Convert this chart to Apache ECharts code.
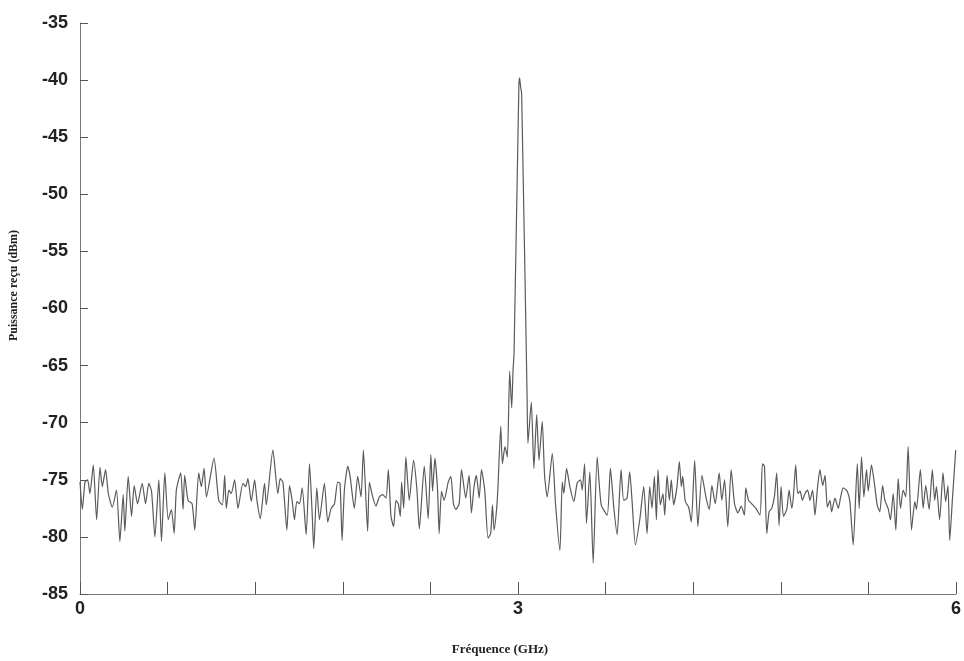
<!DOCTYPE html>
<html><head><meta charset="utf-8">
<script src="https://cdn.jsdelivr.net/npm/echarts@6/dist/echarts.min.js"></script>
<style>html,body{margin:0;padding:0;background:#fff}#c{width:964px;height:661px}</style>
</head><body><div id="c"></div>
<script>
// Frequency (GHz) and received power (dBm)
const freq = [
0.000,0.016,0.034,0.052,0.068,0.091,0.114,0.137,0.153,0.175,0.194,0.221,0.250,0.273,0.296,0.307,0.330,0.353,0.371,0.394,
0.426,0.449,0.471,0.490,0.513,0.540,0.558,0.581,0.604,0.626,0.645,0.660,0.690,0.706,0.717,0.740,0.768,0.786,0.813,0.831,
0.850,0.866,0.918,0.950,0.975,0.991,1.002,1.020,1.036,1.059,1.082,1.116,1.134,1.150,1.173,1.196,1.212,1.235,1.264,1.276,
1.321,1.355,1.371,1.390,1.417,1.435,1.453,1.469,1.485,1.503,1.522,1.549,1.572,1.590,1.601,1.622,1.640,1.674,1.697,1.720,
1.743,1.765,1.781,1.795,1.811,1.834,1.850,1.879,1.902,1.925,1.941,1.970,1.982,2.005,2.027,2.050,2.073,2.096,2.112,2.130,
2.148,2.164,2.180,2.194,2.203,2.217,2.232,2.255,2.285,2.308,2.324,2.358,2.385,2.403,2.415,2.431,2.449,2.460,2.476,2.494,
2.522,2.540,2.558,2.574,2.597,2.613,2.642,2.665,2.681,2.699,2.715,2.734,2.750,2.772,2.795,2.813,2.825,2.836,2.854,2.863,
2.882,2.893,2.911,2.927,2.943,2.957,2.966,2.973,3.006,3.011,3.018,3.025,3.062,3.068,3.091,3.109,3.128,3.144,3.166,3.182,
3.200,3.235,3.257,3.287,3.303,3.314,3.333,3.355,3.383,3.405,3.428,3.440,3.456,3.469,3.492,3.515,3.542,3.570,3.611,3.633,
3.656,3.679,3.706,3.724,3.747,3.765,3.781,3.804,3.834,3.861,3.884,3.902,3.918,3.934,3.948,3.959,3.975,3.993,4.005,4.021,
4.037,4.050,4.066,4.089,4.105,4.119,4.128,4.146,4.169,4.187,4.210,4.232,4.260,4.287,4.310,4.328,4.351,4.378,4.396,4.415,
4.437,4.460,4.483,4.506,4.529,4.551,4.560,4.579,4.601,4.629,4.658,4.674,4.688,4.704,4.720,4.738,4.756,4.772,4.788,4.802,
4.818,4.841,4.857,4.875,4.886,4.902,4.916,4.932,4.948,4.966,4.984,5.000,5.018,5.034,5.050,5.068,5.087,5.103,5.119,5.137,
5.148,5.171,5.194,5.210,5.228,5.255,5.273,5.296,5.324,5.337,5.353,5.369,5.387,5.399,5.421,5.444,5.460,5.478,5.497,5.513,
5.535,5.551,5.570,5.588,5.604,5.620,5.638,5.656,5.672,5.695,5.718,5.729,5.756,5.775,5.793,5.816,5.838,5.854,5.866,5.888,
5.911,5.929,5.945,5.957,5.975,5.998
];
const power = [
-75.2,-77.6,-75.2,-75.0,-76.2,-73.7,-78.5,-73.9,-75.6,-74.1,-76.2,-77.4,-75.9,-80.4,-76.3,-79.5,-74.7,-78.2,-75.5,-77.1,
-75.3,-77.1,-75.3,-76.0,-80.0,-75.0,-80.4,-74.4,-78.5,-77.6,-79.7,-75.9,-74.4,-77.6,-74.6,-76.8,-77.1,-79.4,-74.4,-75.6,
-74.0,-76.5,-73.1,-76.8,-77.2,-74.6,-77.5,-75.9,-76.2,-75.0,-77.5,-75.3,-75.6,-74.9,-76.9,-75.0,-76.8,-78.4,-75.3,-77.2,
-72.4,-76.2,-74.9,-75.2,-79.4,-75.5,-76.8,-78.5,-76.9,-77.1,-75.7,-79.8,-73.6,-77.9,-81.0,-75.7,-78.5,-75.3,-78.7,-77.5,
-77.1,-75.2,-75.3,-80.3,-75.9,-73.8,-74.7,-77.5,-74.7,-76.5,-72.4,-79.5,-75.2,-76.5,-77.3,-76.5,-76.3,-76.6,-74.1,-78.2,
-79.1,-76.8,-77.1,-78.2,-75.2,-77.5,-73.0,-76.8,-73.3,-75.9,-79.3,-73.8,-78.4,-72.8,-76.0,-73.1,-75.9,-79.7,-76.0,-76.8,
-75.2,-74.7,-77.1,-77.6,-77.1,-74.1,-76.6,-74.6,-77.9,-75.6,-74.6,-76.6,-74.1,-75.9,-80.1,-79.7,-77.2,-79.4,-77.5,-75.6,
-70.3,-73.6,-72.1,-73.0,-65.5,-68.7,-65.4,-63.9,-40.5,-39.8,-40.6,-41.2,-67.5,-71.8,-68.2,-74.0,-69.3,-73.3,-69.9,-74.6,
-76.5,-72.7,-77.1,-81.2,-75.2,-76.2,-74.0,-75.6,-76.9,-75.3,-75.0,-75.9,-73.6,-78.8,-74.3,-82.3,-73.0,-77.2,-78.1,-74.0,
-77.4,-79.8,-74.1,-76.8,-76.6,-74.3,-76.8,-80.7,-78.5,-75.6,-79.7,-75.6,-77.5,-74.7,-78.5,-74.1,-77.2,-76.2,-78.1,-74.6,
-76.8,-75.0,-77.2,-75.6,-73.4,-75.6,-74.7,-76.9,-77.4,-78.7,-73.3,-79.1,-74.6,-76.5,-77.6,-75.5,-77.1,-74.4,-76.8,-75.0,
-79.1,-74.1,-77.1,-77.9,-77.3,-78.1,-75.7,-76.8,-77.1,-77.5,-78.1,-73.6,-73.8,-79.7,-77.8,-77.5,-76.5,-74.4,-79.0,-75.6,
-78.2,-77.6,-75.9,-77.5,-76.5,-73.7,-76.2,-76.0,-76.8,-76.2,-75.9,-76.8,-75.9,-78.1,-75.9,-74.1,-75.5,-74.6,-77.4,-76.8,
-77.8,-76.6,-77.5,-76.5,-75.7,-76.0,-76.9,-80.7,-73.6,-77.5,-73.0,-76.5,-74.1,-76.0,-73.7,-75.6,-77.2,-77.8,-75.5,-76.8,
-77.5,-78.5,-76.2,-79.4,-74.9,-77.5,-75.9,-76.5,-72.1,-79.4,-76.9,-77.6,-74.1,-77.5,-75.5,-77.6,-74.1,-76.8,-75.6,-78.5,
-74.4,-76.9,-75.5,-80.3,-76.8,-72.4
];
const yMin = -85, yMax = -35, yStep = 5;
const xMin = 0, xMax = 6, xStep = 0.6;
const xLabelValues = [0, 3, 6];
const xName = 'Fréquence (GHz)';
const yName = 'Puissance reçu (dBm)';

const pts = freq.map((f, i) => [f, power[i]]);
const chart = echarts.init(document.getElementById('c'));
chart.setOption({
  animation: false,
  backgroundColor: '#ffffff',
  grid: { left: 80, right: 6, top: 23, bottom: 67 },
  xAxis: {
    type: 'value', min: xMin, max: xMax, interval: xStep,
    name: xName, nameLocation: 'middle', nameGap: 49,
    nameTextStyle: { fontFamily: 'Liberation Serif', fontWeight: 'bold', fontSize: 13, color: '#222', padding: [0, 36, 0, 0] },
    axisLine: { lineStyle: { color: '#777', width: 1 } },
    axisTick: { inside: true, length: 12, lineStyle: { color: '#555' } },
    splitLine: { show: false },
    axisLabel: {
      margin: 6, color: '#222', fontFamily: 'Liberation Sans', fontWeight: 'bold', fontSize: 18,
      showMaxLabel: true, showMinLabel: true,
      formatter: v => xLabelValues.some(t => Math.abs(t - v) < 1e-6) ? String(Math.round(v)) : ''
    }
  },
  yAxis: {
    type: 'value', min: yMin, max: yMax, interval: yStep,
    name: yName, nameLocation: 'middle', nameGap: 60, nameRotate: 90,
    nameTextStyle: { fontFamily: 'Liberation Serif', fontWeight: 'bold', fontSize: 12, color: '#222', padding: [0, 0, 0, 46] },
    axisLine: { show: true, lineStyle: { color: '#777', width: 1 } },
    axisTick: { show: true, inside: true, length: 8, lineStyle: { color: '#555' } },
    splitLine: { show: false },
    axisLabel: { margin: 12, color: '#222', fontFamily: 'Liberation Sans', fontWeight: 'bold', fontSize: 18 }
  },
  series: [{
    type: 'line', data: pts, showSymbol: false, symbol: 'none', smooth: 0.2,
    lineStyle: { color: '#5a5a5a', width: 1.2 }
  }]
});
</script>
</body></html>
